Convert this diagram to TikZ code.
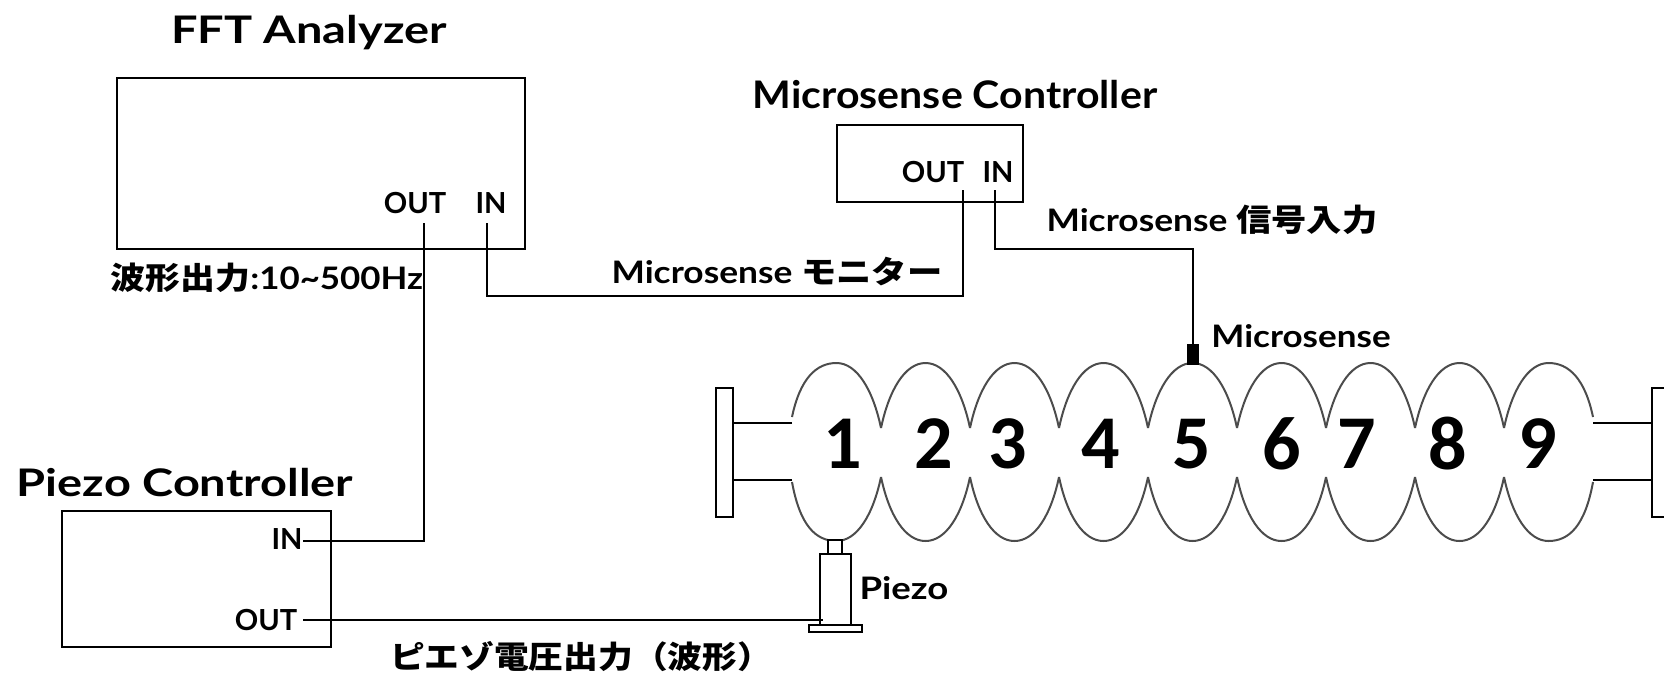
\documentclass[tikz,border=0pt]{standalone}
\usepackage{graphicx}
\usepackage{fontspec}
\setsansfont{Lato}
\setmainfont{Lato}
\newfontfamily\cjk{Noto Sans CJK JP}
\newfontfamily\numfont{Carlito}
\usetikzlibrary{calc}
\newcommand{\jp}[1]{{\cjk\bfseries #1}}
\newcommand{\wide}[2]{\scalebox{#1}[1]{#2}}

\begin{document}
\begin{tikzpicture}[x=0.5pt,y=-0.5pt,thick]
	% `box' is used for the three instruments.
	% `cellline' is used for the cavity outline.
	\tikzstyle{box} = [draw,line width=1.1pt,inner sep=0pt,fill=none]
	\tikzstyle{wire} = [draw,line width=1pt]
	\tikzstyle{part} = [draw,line width=0.9pt,fill=white,inner sep=0pt]
	\tikzstyle{cellline} = [draw,line width=1pt,black!70]
	\tikzstyle{title} = [font=\fontsize{19}{21}\selectfont\bfseries,inner sep=0pt]
	\tikzstyle{small} = [font=\fontsize{15.5}{17}\selectfont\bfseries,inner sep=0pt]
	\tikzstyle{port} = [font=\fontsize{14.5}{16}\selectfont\bfseries,inner sep=0pt]
	\tikzstyle{cellnum} = [font=\numfont\fontsize{38}{40}\selectfont\bfseries,inner sep=0pt]
	\useasboundingbox (0,0) rectangle (1664,675);
	%
	% Instruments.
	\node[box,minimum width=204pt,minimum height=85.5pt] (fft) at (321,163.5) {};
	\node[box,minimum width=93pt,minimum height=38.5pt] (micro) at (930,163.5) {};
	\node[box,minimum width=134.5pt,minimum height=68pt] (piezoctl) at (196.5,579) {};
	\node[title] (ffttitle) at (309,33) {\wide{1.235}{FFT Analyzer}};
	\node[title] (microtitle) at (955,95) {\wide{1.08}{Microsense Controller}};
	\node[title] (piezotitle) at (185,483) {\wide{1.235}{Piezo Controller}};
	% Port labels.
	\node[port] (fftoutl) at (415,203) {OUT};
	\node[port] (fftinl) at (491,203) {IN};
	\node[port] (microoutl) at (933,172) {OUT};
	\node[port] (microinl) at (998,172) {IN};
	\node[port] (piezoinl) at (287,539) {IN};
	\node[port] (piezooutl) at (266,620) {OUT};
	% Signal labels.
	\node[small] (wave) at (267,278) {\wide{1.125}{\jp{波形出力}:10\textasciitilde 500Hz}};
	\node[small] (monitor) at (777,272) {\wide{1.14}{Microsense \jp{モニター}}};
	\node[small] (input) at (1212,220) {\wide{1.14}{Microsense \jp{信号入力}}};
	\node[small] (sensorl) at (1301,336) {\wide{1.13}{Microsense}};
	\node[small] (piezol) at (904,588) {\wide{1.18}{Piezo}};
	\node[small] (drive) at (581,657) {\wide{1.12}{\jp{ピエゾ電圧出力（波形）}}};
	% Cavity: flanges and beam pipe.
	\node[part,minimum width=8.5pt,minimum height=64.5pt] (flangeL) at (724.5,452.5) {};
	\coordinate (pipeLa) at (792,423);
	\coordinate (pipeLb) at (792,480);
	\coordinate (pipeRa) at (1593,423);
	\coordinate (pipeRb) at (1593,480);
	\coordinate (flangeRa) at (1652,423);
	\coordinate (flangeRb) at (1652,480);
	\draw[wire] (pipeLa) -- (pipeLa -| flangeL.east);
	\draw[wire] (pipeLb) -- (pipeLb -| flangeL.east);
	\draw[wire] (pipeRa) -- (flangeRa);
	\draw[wire] (pipeRb) -- (flangeRb);
	\draw[wire] (1664,388) -- (1652,388) -- (1652,517) -- (1664,517);
	% Cells, left end / right end of the iris tips.
	\foreach \xl/\yl/\xr/\yr in {792/417/881/428,881/428/970/428,970/428/1059/428,1059/428/1148/428,1148/428/1237/428,1237/428/1326/428,1326/428/1415/428,1415/428/1504/428,1504/428/1593/417} {
		\draw[cellline] (\xl,\yl) .. controls (\xl+8,{\yl-38}) and (\xl+24,363) .. ({(\xl+\xr)/2},363)
			.. controls (\xr-24,363) and (\xr-8,{\yr-38}) .. (\xr,\yr);
		\draw[cellline] (\xl,{905-\yl+(\yl==417?-6:0)}) .. controls (\xl+8,{943-\yl}) and (\xl+24,541) .. ({(\xl+\xr)/2},541)
			.. controls (\xr-24,541) and (\xr-8,{943-\yr}) .. (\xr,{905-\yr+(\yr==417?-6:0)});
	}
	\foreach \x/\n in {843/1,934/2,1008/3,1101/4,1192/5,1282/6,1357/7,1448/8,1538/9} {
		\node[cellnum] (cell\n) at (\x,444) {\n};
	}
	% Sensors.
	\node[draw,fill=black,inner sep=0pt,minimum width=5.5pt,minimum height=10pt] (sensor) at (1193,354.5) {};
	\node[part,minimum width=7pt,minimum height=7pt] (neck) at (835,547) {};
	\node[part,minimum width=15.5pt,minimum height=35.5pt] (piezo) at (835.5,589.5) {};
	\node[part,minimum width=26.5pt,minimum height=3.5pt] (base) at (835.5,628.5) {};
	% Wires.
	\coordinate (fftout) at (424,223);
	\coordinate (fftin) at (487,223);
	\coordinate (microout) at (963,190);
	\coordinate (microin) at (995,190);
	\coordinate (piezoin) at (303,541);
	\coordinate (piezoout) at (303,620);
	\coordinate (piezoend) at (823,620);
	\coordinate (monitorkink) at (963,296);
	\coordinate (inputkink) at (1193,249);
	\draw[wire] (fftout) |- (piezoin);
	\draw[wire] (fftin) |- (monitorkink) -- (microout);
	\draw[wire] (microin) |- (inputkink) -- (sensor.north);
	\draw[wire] (piezoout) -- (piezoend);
\end{tikzpicture}
\end{document}
